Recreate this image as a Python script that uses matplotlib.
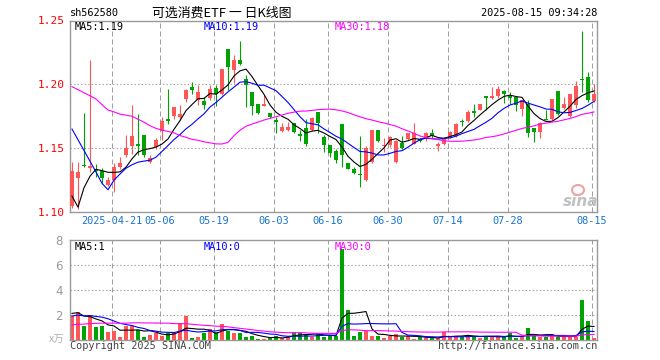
import matplotlib
matplotlib.use("Agg")
import matplotlib.pyplot as plt
import numpy as np
import pandas as pd

# ---------------- data ----------------
opens = [1.1047, 1.1268, 1.1365, 1.1344, 1.1336, 1.1320, 1.1211, 1.1250, 1.1354, 1.1445,
         1.1516, 1.1531, 1.1600, 1.1393, 1.1510, 1.1633, 1.1732, 1.1753, 1.1745, 1.1883,
         1.1979, 1.1875, 1.1870, 1.1896, 1.1974, 1.1922, 1.2273, 1.2109, 1.2188, 1.2044,
         1.1940, 1.1844, 1.1833, 1.1779, 1.1719, 1.1635, 1.1640, 1.1700, 1.1607, 1.1661,
         1.1640, 1.1781, 1.1589, 1.1523, 1.1479, 1.1693, 1.1385, 1.1336, 1.1297, 1.1250,
         1.1388, 1.1640, 1.1516, 1.1523, 1.1393, 1.1544, 1.1568, 1.1536, 1.1570, 1.1568,
         1.1622, 1.1518, 1.1531, 1.1583, 1.1596, 1.1711, 1.1711, 1.1784, 1.1802, 1.1906,
         1.1891, 1.1906, 1.1948, 1.1911, 1.1901, 1.1810, 1.1849, 1.1659, 1.1628, 1.1729,
         1.1727, 1.1945, 1.1815, 1.1750, 1.1836, 1.2044, 1.2057, 1.1867]
highs = [1.1393, 1.1393, 1.1779, 1.2193, 1.1375, 1.1346, 1.1276, 1.1380, 1.1432, 1.1600,
         1.1836, 1.1766, 1.1600, 1.1445, 1.1583, 1.1745, 1.1961, 1.1823, 1.1836, 1.1961,
         1.2018, 1.1992, 1.1901, 1.1992, 1.1992, 1.2122, 1.2273, 1.2232, 1.2336, 1.2070,
         1.1940, 1.1849, 1.1914, 1.1779, 1.1745, 1.1700, 1.1703, 1.1700, 1.1640, 1.1727,
         1.1745, 1.1781, 1.1600, 1.1523, 1.1497, 1.1693, 1.1385, 1.1354, 1.1594, 1.1516,
         1.1641, 1.1640, 1.1580, 1.1595, 1.1562, 1.1596, 1.1620, 1.1698, 1.1580, 1.1628,
         1.1654, 1.1550, 1.1589, 1.1635, 1.1698, 1.1732, 1.1797, 1.1849, 1.1849, 1.1906,
         1.1979, 1.1987, 1.1953, 1.1940, 1.1906, 1.1880, 1.1875, 1.1659, 1.1706, 1.1797,
         1.1888, 1.1945, 1.1901, 1.1927, 1.2023, 1.2417, 1.2096, 1.2000]
lows = [1.1035, 1.1023, 1.1355, 1.1310, 1.1276, 1.1224, 1.1205, 1.1159, 1.1340, 1.1430,
        1.1458, 1.1445, 1.1430, 1.1385, 1.1497, 1.1563, 1.1693, 1.1732, 1.1719, 1.1862,
        1.1927, 1.1836, 1.1810, 1.1875, 1.1831, 1.1915, 1.1953, 1.2013, 1.2148, 1.1823,
        1.1763, 1.1771, 1.1828, 1.1737, 1.1620, 1.1630, 1.1635, 1.1620, 1.1557, 1.1516,
        1.1635, 1.1615, 1.1469, 1.1432, 1.1380, 1.1349, 1.1336, 1.1297, 1.1198, 1.1242,
        1.1380, 1.1549, 1.1470, 1.1510, 1.1385, 1.1497, 1.1563, 1.1531, 1.1550, 1.1557,
        1.1583, 1.1480, 1.1526, 1.1578, 1.1589, 1.1674, 1.1706, 1.1745, 1.1797, 1.1802,
        1.1885, 1.1896, 1.1854, 1.1849, 1.1792, 1.1750, 1.1589, 1.1550, 1.1576, 1.1719,
        1.1719, 1.1758, 1.1810, 1.1745, 1.1818, 1.1940, 1.1862, 1.1862]
closes = [1.1320, 1.1315, 1.1360, 1.1357, 1.1320, 1.1268, 1.1250, 1.1354, 1.1380, 1.1503,
          1.1594, 1.1516, 1.1445, 1.1424, 1.1563, 1.1714, 1.1714, 1.1823, 1.1766, 1.1953,
          1.1953, 1.1940, 1.1836, 1.1961, 1.1922, 1.2122, 1.2135, 1.2188, 1.2161, 1.1992,
          1.1828, 1.1779, 1.1849, 1.1745, 1.1706, 1.1667, 1.1667, 1.1630, 1.1599, 1.1531,
          1.1740, 1.1698, 1.1526, 1.1464, 1.1411, 1.1445, 1.1336, 1.1302, 1.1286, 1.1503,
          1.1641, 1.1557, 1.1526, 1.1589, 1.1557, 1.1503, 1.1615, 1.1615, 1.1557, 1.1622,
          1.1594, 1.1529, 1.1583, 1.1628, 1.1693, 1.1703, 1.1784, 1.1779, 1.1844, 1.1893,
          1.1906, 1.1961, 1.1922, 1.1896, 1.1836, 1.1875, 1.1620, 1.1628, 1.1700, 1.1721,
          1.1883, 1.1766, 1.1849, 1.1922, 1.1987, 1.2034, 1.1875, 1.1922]
volumes = [1.92, 2.27, 1.15, 2.00, 1.07, 1.15, 0.67, 0.75, 0.27, 1.12,
           1.12, 0.80, 0.27, 0.40, 0.53, 0.35, 0.53, 0.59, 1.33, 1.95,
           0.19, 0.27, 0.59, 0.88, 0.61, 1.28, 0.75, 0.59, 0.59, 0.27,
           0.35, 0.08, 0.08, 0.19, 0.35, 0.13, 0.35, 0.67, 0.53, 0.48,
           0.27, 0.48, 0.27, 0.35, 0.35, 7.28, 2.40, 0.32, 0.67, 0.72,
           0.32, 0.32, 0.19, 0.32, 0.48, 0.27, 0.32, 0.08, 0.27, 0.13,
           0.21, 0.13, 0.61, 0.27, 0.32, 0.27, 0.40, 0.32, 0.13, 0.32,
           0.27, 0.27, 0.27, 0.53, 0.13, 0.27, 0.99, 0.32, 0.27, 0.27,
           0.32, 0.27, 0.27, 0.27, 0.27, 3.20, 1.55, 0.13]
# closes / volumes of the 29 sessions before the visible window (feed the moving averages)
prior_closes = [1.200, 1.210, 1.205, 1.210, 1.260, 1.250, 1.180, 1.190, 1.175, 1.185,
                1.220, 1.215, 1.225, 1.220, 1.210, 1.205, 1.215, 1.240, 1.235, 1.245,
                1.215, 1.220, 1.220, 1.217, 1.215, 1.175, 1.060, 1.0905, 1.105]
prior_volumes = [0.60, 0.70, 0.65, 0.60, 0.70, 0.65, 0.60, 0.70, 0.65,
                 0.60, 0.55, 0.65, 0.60, 0.60, 0.55, 0.65,
                 1.60, 1.70, 1.75, 1.70,
                 1.60, 1.70, 1.80, 1.75, 1.70,
                 2.00, 2.50, 2.20, 2.03]

tick_idx = [7, 15, 24, 34, 43, 53, 63, 73, 87]
tick_labels = ["2025-04-21", "05-06", "05-19", "06-03", "06-16", "06-30", "07-14", "07-28", "08-15"]
price_ticks = [1.10, 1.15, 1.20, 1.25]
vol_ticks = [2, 4, 6, 8]

# ---------------- computations ----------------
n = len(closes)
x = np.arange(n)
all_c = pd.Series(prior_closes + closes)
all_v = pd.Series(prior_volumes + volumes)
ma = {w: all_c.rolling(w).mean().values[-n:] for w in (5, 10, 30)}
vma = {w: all_v.rolling(w).mean().values[-n:] for w in (5, 10, 30)}

RED = "#FF5656"
GREEN = "#00A400"
GRAY = "#A0A0A0"
MONO = "DejaVu Sans Mono"

W, H = 660, 360
fig = plt.figure(figsize=(6.6, 3.6), dpi=100)

def px_ax(l, t, r, b):
    return fig.add_axes([l / W, 1 - b / H, (r - l) / W, (b - t) / H])

ax = px_ax(70, 20.5, 597, 212)
axv = px_ax(70, 240, 597, 340)

xmin, xmax = -2 / 6, n - 1 + 3 / 6
up = np.array(closes) >= np.array(opens)
colors = np.where(up, RED, GREEN)

for a in (ax, axv):
    a.set_xlim(xmin, xmax)
    for s in a.spines.values():
        s.set_color("#999999")
        s.set_linewidth(1.0)
    for t in tick_idx:
        a.axvline(t - 0.33, color=GRAY, lw=0.72, ls=(0, (5, 3)), zorder=0)

# price panel
ax.set_ylim(1.10, 1.25)
for p in price_ticks[1:-1]:
    ax.axhline(p, color=GRAY, lw=0.8, ls=(0, (1.2, 2)), zorder=0)
ax.vlines(x, lows, highs, colors=colors, lw=0.8, zorder=2)
o = np.array(opens); c = np.array(closes)
body_bottom = np.minimum(o, c)
body_h = np.maximum(np.abs(c - o), 0.0009)
ax.bar(x, body_h, bottom=body_bottom, width=0.8, color=colors, linewidth=0, zorder=3)
ax.plot(x, ma[5], color="black", lw=0.8, zorder=4)
ax.plot(x, ma[10], color="#0000FF", lw=0.8, zorder=4)
ax.plot(x, ma[30], color="#FF00FF", lw=0.8, zorder=4)
ax.set_yticks(price_ticks)
ax.set_yticklabels([f"{p:.2f}" for p in price_ticks], color="#FF0000", fontsize=8, family=MONO)
ax.tick_params(axis="y", length=0, pad=4)
ax.set_xticks(np.array(tick_idx) - 0.33)
ax.set_xticklabels(tick_labels, color="#1874CD", fontsize=7.4, family=MONO)
ax.tick_params(axis="x", length=0, pad=3)

# volume panel
axv.set_ylim(0, 8)
for v in vol_ticks[:-1]:
    axv.axhline(v, color=GRAY, lw=0.8, ls=(0, (1.2, 2)), zorder=0)
axv.bar(x, volumes, width=0.8, color=colors, linewidth=0, zorder=2)
axv.plot(x, vma[5], color="black", lw=0.8, zorder=3)
axv.plot(x, vma[10], color="#0000FF", lw=0.8, zorder=3)
axv.plot(x, vma[30], color="#FF00FF", lw=0.8, zorder=3)
axv.set_yticks(vol_ticks)
axv.set_yticklabels([str(v) for v in vol_ticks], color="#999999", fontsize=8.5)
axv.tick_params(axis="y", length=0, pad=5)
axv.set_xticks([])

def ftext(xp, yp, s, **kw):
    fig.text(xp / W, 1 - yp / H, s, **kw)

mono = dict(family=MONO, fontsize=7.4)
# MA legends (price)
ftext(75, 27, f"MA5:{ma[5][-1]:.2f}", color="black", va="center", **mono)
ftext(204, 27, f"MA10:{ma[10][-1]:.2f}", color="#0000FF", va="center", **mono)
ftext(335, 27, f"MA30:{ma[30][-1]:.2f}", color="#FF00FF", va="center", **mono)
# MA legends (volume)
ftext(75, 247, f"MA5:{int(vma[5][-1])}", color="black", va="center", **mono)
ftext(204, 247, f"MA10:{int(vma[10][-1])}", color="#0000FF", va="center", **mono)
ftext(335, 247, f"MA30:{int(vma[30][-1])}", color="#FF00FF", va="center", **mono)

# header
ftext(70, 13, "sh562580", color="black", va="center", **mono)
ftext(152, 13, "可选消费ETF 一 日K线图", color="black", va="center",
      family=["Noto Sans CJK SC", "DejaVu Sans"], fontsize=9.3)
ftext(597, 13, "2025-08-15 09:34:28", color="black", va="center", ha="right", **mono)

# footer
ftext(70, 346, "Copyright 2025 SINA.COM", color="#444444", va="center", **mono)
ftext(597, 346, "http://finance.sina.com.cn", color="#444444", va="center", ha="right", **mono)
ftext(64, 340, "x万", color="#B0B0B0", va="center", ha="right",
      family=["Noto Sans CJK SC", "DejaVu Sans"], fontsize=7.5)

# sina watermark
ftext(581, 202, "sina", color="#C0C0C0", va="center", ha="center",
      fontsize=11, fontweight="bold", style="italic")
fig.patches.append(matplotlib.patches.Ellipse((578 / W, 1 - 190 / H), 12 / W, 10 / H,
                                              transform=fig.transFigure, facecolor="none",
                                              edgecolor="#F4A0A0", lw=1.5))

fig.savefig("out.png", dpi=100)
